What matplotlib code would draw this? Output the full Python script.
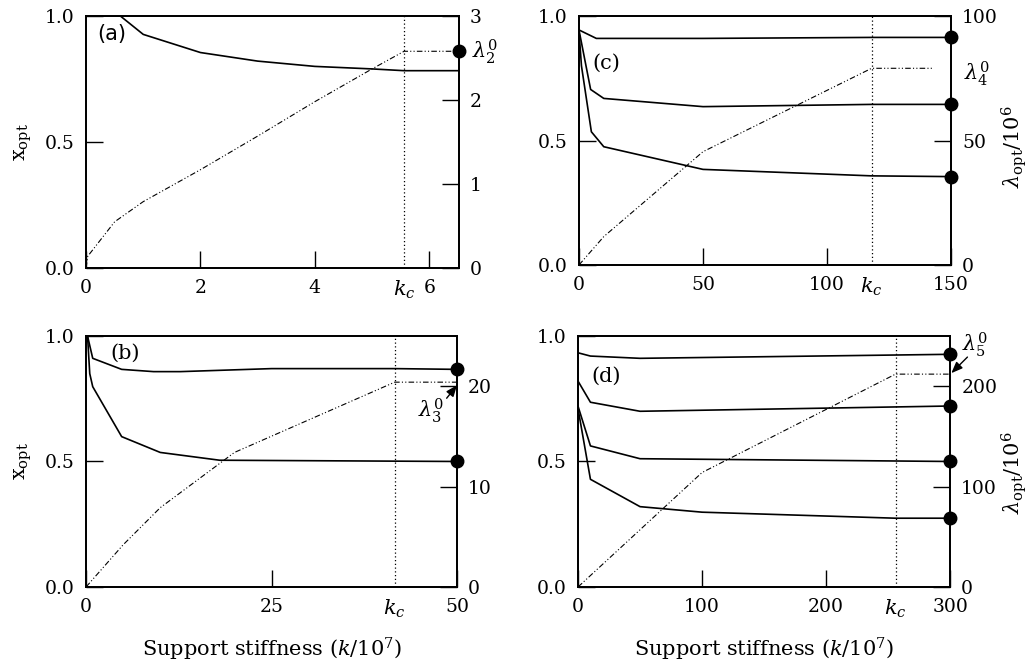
import matplotlib
matplotlib.use('Agg')
import matplotlib.pyplot as plt

plt.rcParams['font.family'] = 'DejaVu Serif'
plt.rcParams['mathtext.fontset'] = 'dejavuserif'
plt.rcParams['font.size'] = 13.5

# ---- panel (a) ----
ka_x = [0, 0.6, 1, 2, 3, 4, 5, 5.56, 6.52]
xa = [1.0, 1.0, 0.927, 0.855, 0.821, 0.80, 0.79, 0.783, 0.783]
ka_lam = [0, 0.03, 0.5, 1, 2, 3, 4, 5, 5.56, 6.52]
lam_a = [0, 0.14, 0.55, 0.79, 1.17, 1.57, 1.98, 2.37, 2.58, 2.58]
kc_a = 5.56

# ---- panel (b) ----
kb1 = [0.2, 0.9, 4.8, 9.1, 12.7, 25, 41.6, 50]
xb1 = [1.0, 0.911, 0.867, 0.858, 0.858, 0.87, 0.87, 0.867]
kb2 = [0.2, 0.5, 0.9, 4.8, 10, 18, 50]
xb2 = [1.0, 0.85, 0.798, 0.599, 0.536, 0.505, 0.5]
kb_lam = [0, 5, 10, 20, 41.6, 50]
lam_b = [0, 4.2, 7.9, 13.4, 20.4, 20.4]
kc_b = 41.6

# ---- panel (c) ----
kc1 = [0, 7, 50, 118, 150]
xc1 = [0.944, 0.91, 0.91, 0.914, 0.914]
kc2 = [0, 4.7, 10, 50, 118, 150]
xc2 = [0.944, 0.705, 0.669, 0.636, 0.645, 0.645]
kc3 = [0, 1, 5, 10, 50, 118, 150]
xc3 = [0.94, 0.80, 0.535, 0.475, 0.384, 0.358, 0.355]
kc_lam = [0, 10, 50, 118, 143]
lam_c = [0, 11.4, 45.5, 79, 79]
kc_c = 118

# ---- panel (d) ----
kd1 = [0, 10, 50, 300]
xd1 = [0.933, 0.92, 0.911, 0.927]
kd2 = [0, 10, 50, 300]
xd2 = [0.82, 0.736, 0.70, 0.721]
kd3 = [0, 10, 50, 300]
xd3 = [0.72, 0.562, 0.511, 0.50]
kd4 = [0, 10, 50, 100, 256, 300]
xd4 = [0.71, 0.429, 0.32, 0.298, 0.274, 0.274]
kd_lam = [0, 100, 256, 300]
lam_d = [0, 114, 212, 212]
kc_d = 256

LAM_STYLE = dict(color='k', lw=0.8, ls=(0, (5, 2, 1, 2, 1, 2)))
ARROW = dict(arrowstyle='-|>,head_length=0.5,head_width=0.2', color='k', lw=1,
             shrinkA=0, shrinkB=0)

fig = plt.figure(figsize=(10.28, 6.64), dpi=100)


def setup(rect, xmax, xticks, rmax, rticks, kc):
    ax = fig.add_axes(rect)
    ax.set_xlim(0, xmax)
    ax.set_ylim(0, 1)
    ax.set_xticks(xticks)
    ax.set_yticks([0, 0.5, 1])
    ax.set_yticklabels(['0.0', '0.5', '1.0'])
    ax.tick_params(direction='in', length=12, width=1, pad=8)
    ax2 = ax.twinx()
    ax2.set_ylim(0, rmax)
    ax2.set_yticks(rticks)
    ax2.tick_params(direction='in', length=12, width=1, pad=8)
    for a in (ax, ax2):
        for s in a.spines.values():
            s.set_linewidth(1.3)
    ax.axvline(kc, color='k', lw=0.9, ls=(0, (1, 2)))
    ax.annotate(r'$k_c$', xy=(kc, 0), xycoords=ax.get_xaxis_transform(),
                xytext=(0, -8), textcoords='offset points',
                ha='center', va='top', fontsize=15)
    return ax, ax2


def end_dots(ax, xmax, vals):
    ax.plot([xmax] * len(vals), vals, 'o', color='k', ms=9,
            clip_on=False, zorder=10)


# (a)
ax, ax2 = setup([0.0837, 0.5964, 0.3628, 0.3795], 6.52, [0, 2, 4, 6], 3, [0, 1, 2, 3], kc_a)
ax.plot(ka_x, xa, color='k', lw=1.2)
ax2.plot(ka_lam, lam_a, **LAM_STYLE)
end_dots(ax2, 6.52, [2.58])
ax.set_ylabel(r'$\mathrm{x}_{\mathrm{opt}}$', fontsize=15, labelpad=8)
ax.text(0.03, 0.93, '(a)', transform=ax.transAxes, family='DejaVu Sans',
        fontsize=15, va='center')
ax2.text(6.52, 2.58, r'  $\lambda_2^0$', fontsize=15, va='center')

# (b)
ax, ax2 = setup([0.0837, 0.1160, 0.3609, 0.378], 50, [0, 25, 50], 25, [0, 10, 20], kc_b)
ax.plot(kb1, xb1, color='k', lw=1.2)
ax.plot(kb2, xb2, color='k', lw=1.2)
ax2.plot(kb_lam, lam_b, **LAM_STYLE)
end_dots(ax, 50, [0.867, 0.5])
ax.set_ylabel(r'$\mathrm{x}_{\mathrm{opt}}$', fontsize=15, labelpad=8)
ax.set_xlabel(r'Support stiffness ($k$/10$^7$)', fontsize=15, labelpad=14)
ax.text(0.065, 0.93, '(b)', transform=ax.transAxes, fontsize=15, va='center')
ax2.text(46.5, 17.6, r'$\lambda_3^0$', fontsize=15, ha='center', va='center')
ax2.annotate('', xy=(50, 20.1), xytext=(48.6, 18.8), arrowprops=ARROW)

# (c)
ax, ax2 = setup([0.5632, 0.6009, 0.3619, 0.375], 150, [0, 50, 100, 150], 100, [0, 50, 100], kc_c)
for kk, xx in [(kc1, xc1), (kc2, xc2), (kc3, xc3)]:
    ax.plot(kk, xx, color='k', lw=1.2)
ax2.plot(kc_lam, lam_c, **LAM_STYLE)
end_dots(ax, 150, [0.914, 0.645, 0.355])
ax.text(0.035, 0.81, '(c)', transform=ax.transAxes, fontsize=15, va='center')
ax2.text(150, 77, r'  $\lambda_4^0$', fontsize=15, va='center')
fig.text(1014 / 1028, 1 - 147 / 664, r'$\lambda_{\mathrm{opt}}/10^6$', fontsize=15,
         rotation=90, ha='center', va='center')

# (d)
ax, ax2 = setup([0.5623, 0.1160, 0.3619, 0.378], 300, [0, 100, 200, 300], 250, [0, 100, 200], kc_d)
for kk, xx in [(kd1, xd1), (kd2, xd2), (kd3, xd3), (kd4, xd4)]:
    ax.plot(kk, xx, color='k', lw=1.2)
ax2.plot(kd_lam, lam_d, **LAM_STYLE)
end_dots(ax, 300, [0.927, 0.721, 0.50, 0.274])
ax.set_xlabel(r'Support stiffness ($k$/10$^7$)', fontsize=15, labelpad=14)
ax.text(0.035, 0.84, '(d)', transform=ax.transAxes, fontsize=15, va='center')
ax2.text(320, 241, r'$\lambda_5^0$', fontsize=15, ha='center', va='center')
ax2.annotate('', xy=(301, 213), xytext=(314, 229), arrowprops=ARROW,
             annotation_clip=False)
fig.text(1014 / 1028, 1 - 473 / 664, r'$\lambda_{\mathrm{opt}}/10^6$', fontsize=15,
         rotation=90, ha='center', va='center')

fig.savefig('out.png', dpi=100)
